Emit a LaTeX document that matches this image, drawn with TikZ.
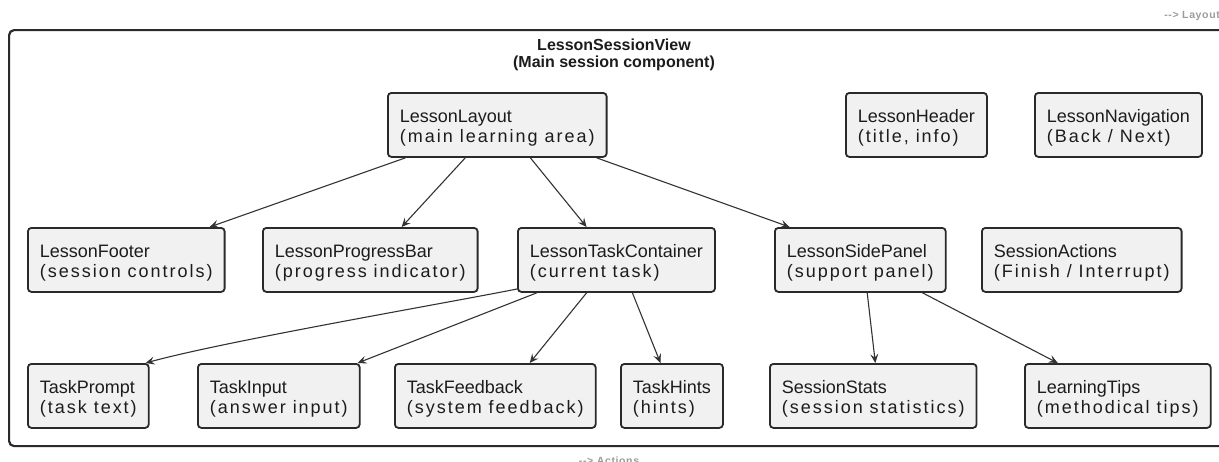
\documentclass[tikz,border=0pt]{standalone}
\usepackage{fontspec}
\setmainfont{Liberation Sans}
\newfontfamily\descfont[LetterSpace=11]{Liberation Sans}
\newfontfamily\tagfont[LetterSpace=6]{Liberation Sans}
\usetikzlibrary{arrows.meta,calc}

\definecolor{boxfill}{HTML}{F1F1F1}
\definecolor{boxline}{HTML}{2A2A2A}
\definecolor{ink}{HTML}{1C1C1C}
\definecolor{edgecol}{HTML}{333333}
\definecolor{tagcol}{HTML}{9B9B9B}

% component label: name on the first line, description on the second
\newcommand{\comptext}[2]{\rule{0pt}{19pt}#1\\{\descfont #2}}

\begin{document}
\begin{tikzpicture}[x=1pt,y=-1pt,
  comp/.style={draw=boxline, fill=boxfill, line width=1.8pt, rounded corners=3.5pt,
    anchor=north west, minimum height=64pt, inner xsep=12pt, inner ysep=2pt,
    align=left, font=\fontsize{18}{20}\selectfont, text=ink},
  frame/.style={draw=boxline, line width=2.2pt, rounded corners=5pt, anchor=north west,
    minimum width=1222pt, minimum height=416pt, inner sep=0pt},
  heading/.style={anchor=base, font=\bfseries\fontsize{16}{18}\selectfont, text=ink},
  tag/.style={font=\tagfont\bfseries\fontsize{10.5}{12}\selectfont, text=tagcol, inner sep=0pt},
  link/.style={draw=edgecol, line width=1.1pt, -{Stealth[length=9pt,width=8pt,inset=3.5pt]}}
]
\useasboundingbox (0,0) rectangle (1219,461);
\clip (0,0) rectangle (1219,461);

% outer session frame and its titles
\node[frame] (session) at (8,29) {};
\node[heading] (title) at (614,50) {LessonSessionView};
\node[heading] (subtitle) at (614,67.5) {(Main session component)};

\node[tag, anchor=base east] (layouttag) at (1220,18) {--> Layout};
\node[tag, anchor=base] (actionstag) at (609,464) {--> Actions};

% first row
\node[comp] (lay) at (387,92) {\comptext{LessonLayout}{(main learning area)}};
\node[comp] (hdr) at (845,92) {\comptext{LessonHeader}{(title, info)}};
\node[comp] (nav) at (1034,92) {\comptext{LessonNavigation}{(Back / Next)}};

% second row
\node[comp] (footer) at (27,227) {\comptext{LessonFooter}{(session controls)}};
\node[comp] (prog) at (262,227) {\comptext{LessonProgressBar}{(progress indicator)}};
\node[comp] (task) at (517,227) {\comptext{LessonTaskContainer}{(current task)}};
\node[comp] (side) at (774,227) {\comptext{LessonSidePanel}{(support panel)}};
\node[comp] (actions) at (981,227) {\comptext{SessionActions}{(Finish / Interrupt)}};

% third row
\node[comp] (prompt) at (27,363) {\comptext{TaskPrompt}{(task text)}};
\node[comp] (input) at (197,363) {\comptext{TaskInput}{(answer input)}};
\node[comp] (feedback) at (394,363) {\comptext{TaskFeedback}{(system feedback)}};
\node[comp] (hints) at (620,363) {\comptext{TaskHints}{(hints)}};
\node[comp] (stats) at (769,363) {\comptext{SessionStats}{(session statistics)}};
\node[comp] (tips) at (1024,363) {\comptext{LearningTips}{(methodical tips)}};

% layout children
\draw[link] ($(lay.south west)!0.084!(lay.south east)$) -- ($(footer.north west)!0.92!(footer.north east)$);
\draw[link] ($(lay.south west)!0.355!(lay.south east)$) -- ($(prog.north west)!0.645!(prog.north east)$);
\draw[link] ($(lay.south west)!0.65!(lay.south east)$) -- ($(task.north west)!0.35!(task.north east)$);
\draw[link] ($(lay.south west)!0.95!(lay.south east)$) -- ($(side.north west)!0.09!(side.north east)$);

% task container children
\draw[link] ($(task.south west)+(1,-4)$) .. controls +(-70,14) and +(80,-22) .. ($(prompt.north east)+(-4,0)$);
\draw[link] ($(task.south west)!0.1!(task.south east)$) -- ($(input.north east)+(-3,0)$);
\draw[link] ($(task.south west)!0.35!(task.south east)$) -- ($(feedback.north west)!0.67!(feedback.north east)$);
\draw[link] ($(task.south west)!0.58!(task.south east)$) -- ($(hints.north west)!0.39!(hints.north east)$);

% side panel children
\draw[link] ($(side.south west)!0.54!(side.south east)$) -- ($(stats.north west)!0.51!(stats.north east)$);
\draw[link] ($(side.south west)!0.86!(side.south east)$) -- ($(tips.north west)!0.18!(tips.north east)$);
\end{tikzpicture}
\end{document}
